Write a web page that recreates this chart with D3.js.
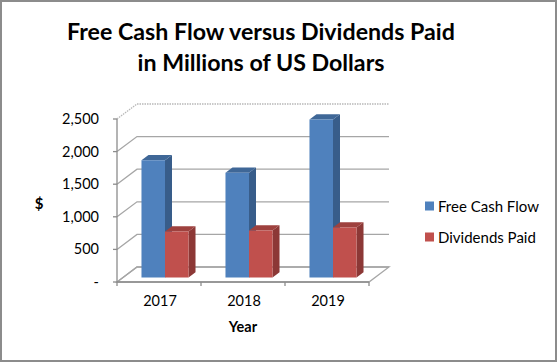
<!DOCTYPE html>
<html>
<head>
<meta charset="utf-8">
<script src="https://cdn.jsdelivr.net/npm/d3@7"></script>
<style>
  html, body { margin: 0; padding: 0; background: #fff; }
  svg { display: block; }
  text { font-family: Lato, "Open Sans", sans-serif; fill: #000; }
</style>
</head>
<body>
<svg id="chart" width="558" height="362"></svg>
<script>
const years = ["2017", "2018", "2019"];
const seriesNames = ["Free Cash Flow", "Dividends Paid"];
const freeCashFlow = [1800, 1605, 2425];
const dividendsPaid = [705, 720, 765];
const yTicks = [0, 500, 1000, 1500, 2000, 2500];
const yTickLabels = ["-", "500", "1,000", "1,500", "2,000", "2,500"];
const titleLines = ["Free Cash Flow versus Dividends Paid", "in Millions of US Dollars"];

const colors = [
  { front: "#4F81BD", side: "#385D8A", top: "#3F6797" },
  { front: "#C0504D", side: "#8C3836", top: "#9E413E" }
];

const svg = d3.select("#chart");
const W = 558, H = 362;

// frame
svg.append("rect").attr("x", 1).attr("y", 1).attr("width", W - 3).attr("height", H - 2)
  .attr("fill", "#fff").attr("stroke", "#8c8c8c").attr("stroke-width", 2);

// 3D geometry
const DX = 20, DY = -15;           // floor depth offset
const x = d3.scaleBand().domain(years).range([117, 369]).paddingInner(0.44).paddingOuter(0.22);
const y = d3.scaleLinear().domain([0, 2500]).range([282, 119]);
const P = (px, v, d) => [px + d * DX, y(v) + d * DY];

const grid = svg.append("g");
// floor
const floor = [P(117, 0, 0), P(369, 0, 0), P(369, 0, 1), P(117, 0, 1)];
grid.append("polygon").attr("points", floor.map(p => p.join(",")).join(" "))
  .attr("fill", "#fff").attr("stroke", "#a6a6a6").attr("stroke-width", 1.3);

// gridlines: left wall diagonal + back wall horizontal
yTicks.forEach(v => {
  const a = P(117, v, 0), b = P(117, v, 1), c = P(369, v, 1);
  const isTop = v === 2500;
  grid.append("polyline").attr("points", [a, b, c].map(p => p.join(",")).join(" "))
    .attr("fill", "none").attr("stroke", isTop ? "#b8b8b8" : "#a6a6a6")
    .attr("stroke-width", 1.3)
    .attr("stroke-dasharray", isTop ? "1.5,1" : null);
});

// left value axis line + ticks
grid.append("line").attr("x1", 117).attr("x2", 117).attr("y1", y(2500)).attr("y2", y(0))
  .attr("stroke", "#8c8c8c").attr("stroke-width", 1.3);
yTicks.forEach(v => {
  grid.append("line").attr("x1", 113).attr("x2", 117).attr("y1", y(v)).attr("y2", y(v))
    .attr("stroke", "#8c8c8c").attr("stroke-width", 1.3);
});
// front category axis ticks
const edges = years.map((yr, i) => 117 + i * x.step()).concat([369]);
edges.forEach(ex => {
  grid.append("line").attr("x1", ex).attr("x2", ex).attr("y1", y(0)).attr("y2", y(0) + 4)
    .attr("stroke", "#8c8c8c").attr("stroke-width", 1.3);
});
grid.append("line").attr("x1", 117).attr("x2", 369).attr("y1", y(0)).attr("y2", y(0))
  .attr("stroke", "#8c8c8c").attr("stroke-width", 1.3);

// y tick labels
svg.append("g").selectAll("text").data(yTicks).join("text")
  .attr("x", 99).attr("y", v => y(v) + 5)
  .attr("text-anchor", "end").attr("font-size", 14.5)
  .text((v, i) => yTickLabels[i]);

// bars
const series = [freeCashFlow, dividendsPaid];
const bw = x.bandwidth() / 2;
const d0 = 0.3, d1 = 0.65;
const bars = svg.append("g");
years.forEach((yr, i) => {
  series.forEach((vals, s) => {
    const v = vals[i];
    const x0 = x(yr) + s * bw, x1 = x0 + bw;
    const c = colors[s];
    const ftl = P(x0, v, d0), ftr = P(x1, v, d0), fbl = P(x0, 0, d0), fbr = P(x1, 0, d0);
    const btl = P(x0, v, d1), btr = P(x1, v, d1), bbr = P(x1, 0, d1);
    bars.append("polygon").attr("points", [ftr, btr, bbr, fbr].map(p => p.join(",")).join(" "))
      .attr("fill", c.side);
    bars.append("polygon").attr("points", [ftl, ftr, btr, btl].map(p => p.join(",")).join(" "))
      .attr("fill", c.top);
    bars.append("polygon").attr("points", [ftl, ftr, fbr, fbl].map(p => p.join(",")).join(" "))
      .attr("fill", c.front);
  });
});

// category labels
svg.append("g").selectAll("text").data(years).join("text")
  .attr("x", d => x(d) + x.bandwidth() / 2 + 1).attr("y", 306)
  .attr("text-anchor", "middle").attr("font-size", 14.5)
  .text(d => d);

// axis titles
svg.append("text").attr("x", 39).attr("y", 209).attr("text-anchor", "middle")
  .attr("font-size", 15).attr("font-weight", "bold").text("$");
svg.append("text").attr("x", 243).attr("y", 332).attr("text-anchor", "middle")
  .attr("font-size", 14.5).attr("font-weight", "bold").text("Year");

// title
svg.append("g").selectAll("text").data(titleLines).join("text")
  .attr("x", 261).attr("y", (d, i) => 40 + i * 31)
  .attr("text-anchor", "middle").attr("font-size", 23.2).attr("font-weight", "bold")
  .text(d => d);

// legend
const legend = svg.append("g");
seriesNames.forEach((n, i) => {
  const ly = 206 + i * 31;
  legend.append("rect").attr("x", 425).attr("y", ly - 4.5).attr("width", 9).attr("height", 9)
    .attr("fill", colors[i].front);
  legend.append("text").attr("x", 438).attr("y", ly + 5.5).attr("font-size", 15).text(n);
});
</script>
</body>
</html>
